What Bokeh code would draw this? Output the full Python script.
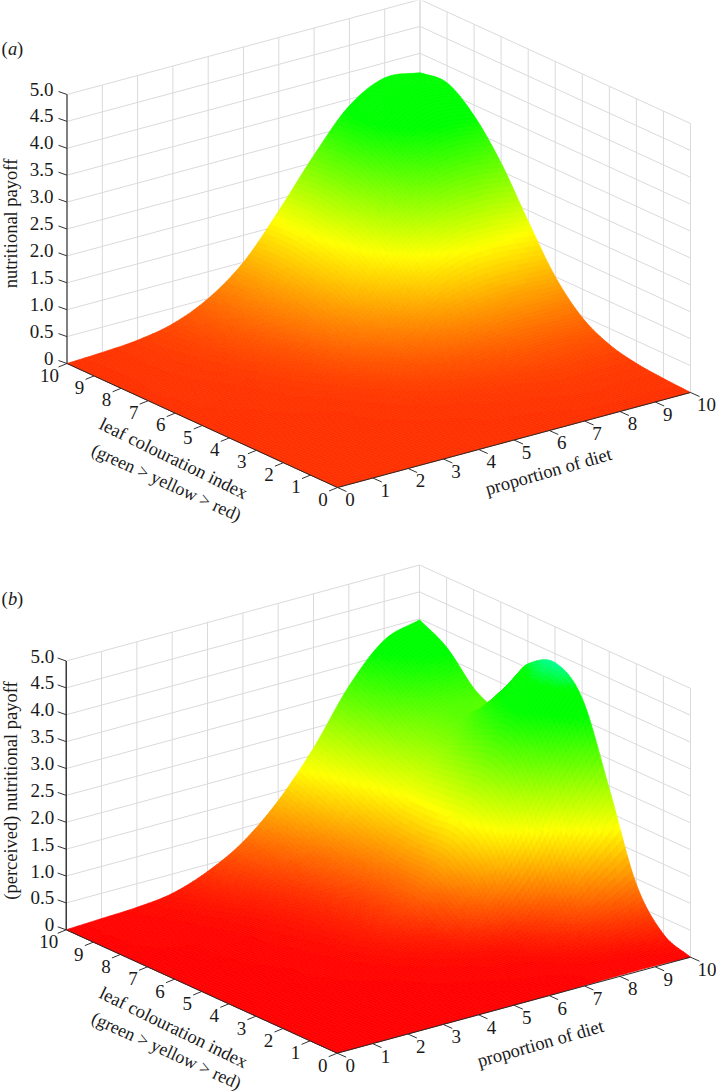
import numpy as np
from bokeh.plotting import figure
from bokeh.models import Range1d, ColumnDataSource
from bokeh.core.properties import value
from bokeh.embed import file_html
from bokeh.resources import INLINE

proportion_ticks = [0, 1, 2, 3, 4, 5, 6, 7, 8, 9, 10]
colouration_ticks = [0, 1, 2, 3, 4, 5, 6, 7, 8, 9, 10]
payoff_ticks = [0, 0.5, 1.0, 1.5, 2.0, 2.5, 3.0, 3.5, 4.0, 4.5, 5.0]
payoff_labels = ["0", "0.5", "1.0", "1.5", "2.0", "2.5", "3.0", "3.5", "4.0", "4.5", "5.0"]

# rows: leaf colouration index (see the *_rows lists), columns: proportion of diet 0..10
payoff_a_rows = [0, 1, 2, 3, 4, 5, 6, 7, 8, 9, 10]
payoff_a = [
    [0, 0, 0, 0, 0, 0, 0, 0, 0, 0, 0],
    [0, 0, 0, 0, 0, .01, .01, .02, .03, .03, .03],
    [0, 0, 0, 0, .01, .02, .04, .06, .08, .08, .08],
    [0, 0, 0, .01, .03, .06, .10, .15, .20, .21, .20],
    [0, .01, .01, .02, .06, .14, .25, .37, .47, .49, .47],
    [0, .01, .02, .05, .13, .30, .55, .85, 1.0, 1.03, 1.0],
    [0, .02, .03, .09, .22, .55, 1.0, 1.55, 1.85, 1.88, 1.80],
    [0, .03, .05, .13, .33, .78, 1.45, 2.15, 2.60, 2.73, 2.65],
    [0, .03, .07, .17, .43, .93, 1.68, 2.48, 3.10, 3.37, 3.30],
    [0, .03, .08, .20, .48, 1.01, 1.80, 2.67, 3.42, 3.75, 3.68],
    [0, .03, .08, .21, .50, 1.00, 1.78, 2.64, 3.38, 3.72, 3.64],
]
payoff_b_rows = [0, 1, 2, 3, 4, 5, 6, 6.5, 7, 7.3, 7.36, 8, 9, 10]
payoff_b = [
    [0, 0, 0, 0, 0, 0, 0, .01, .02, .02, 0],
    [0, 0, 0, 0, 0, 0, .01, .02, .05, .10, .20],
    [0, 0, 0, 0, .01, .02, .04, .07, .22, .55, .90],
    [0, 0, 0, .01, .02, .05, .10, .25, .70, 1.65, 2.45],
    [0, 0, .01, .02, .05, .12, .30, .95, 1.95, 3.0, 3.9],
    [0, 0, .01, .03, .08, .22, .60, 1.35, 2.45, 3.6, 4.33],
    [0, 0, .02, .04, .10, .28, .65, 1.35, 2.40, 3.4, 4.08],
    [0, .01, .02, .05, .12, .30, .70, 1.37, 2.35, 3.2, 3.70],
    [0, .01, .02, .05, .13, .33, .75, 1.40, 2.30, 3.0, 3.22],
    [0, .01, .02, .06, .14, .36, .80, 1.45, 2.33, 2.95, 2.97],
    [0, .01, .02, .06, .15, .37, .81, 1.46, 2.34, 2.95, 2.98],
    [0, .02, .03, .07, .18, .42, .90, 1.60, 2.50, 3.0, 3.17],
    [0, .03, .04, .10, .27, .58, 1.12, 1.90, 2.85, 3.45, 3.70],
    [0, .03, .06, .14, .37, .74, 1.33, 2.13, 3.10, 3.78, 3.98],
]

FONT = value("Liberation Serif")
p = figure(width=716, height=1092, x_range=Range1d(0, 716), y_range=Range1d(1092, 0),
           output_backend="svg", toolbar_location=None, min_border=0, margin=(0, 0, 0, 0))
p.axis.visible = False
p.grid.visible = False
p.outline_line_color = None


def resample(m, knots, fine):
    """Cubic Hermite resampling of a table along its first axis, over the given knots."""
    x = np.asarray(knots, float)
    slopes = np.zeros_like(m)
    slopes[1:-1] = (m[2:] - m[:-2]) / (x[2:] - x[:-2]).reshape((-1,) + (1,) * (m.ndim - 1))
    slopes[0] = (m[1] - m[0]) / (x[1] - x[0])
    slopes[-1] = (m[-1] - m[-2]) / (x[-1] - x[-2])
    i = np.clip(np.searchsorted(x, fine, side="right") - 1, 0, len(x) - 2)
    shape = (-1,) + (1,) * (m.ndim - 1)
    h = (x[i + 1] - x[i]).reshape(shape)
    u = ((fine - x[i]) / (x[i + 1] - x[i])).reshape(shape)
    return ((2 * u ** 3 - 3 * u ** 2 + 1) * m[i] + (u ** 3 - 2 * u ** 2 + u) * h * slopes[i]
            + (-2 * u ** 3 + 3 * u ** 2) * m[i + 1] + (u ** 3 - u ** 2) * h * slopes[i + 1])


def colour(z, low_g, yellow, blue_from, blue_to, blue_max):
    step = yellow / 60
    z = round(z / step) * step
    g = low_g + (255 - low_g) * min(z / yellow, 1)
    r = 255 if z <= yellow else max(0, 255 * (1 - (z - yellow) / yellow))
    b = 0 if z <= blue_from else min(blue_max, blue_max * (z - blue_from) / (blue_to - blue_from))
    return "#%02x%02x%02x" % (int(round(r)), int(round(g)), int(round(b)))


def panel(z_table, z_rows, front, right, left, top_y, axis_color, axis_width, low_g, yellow, blue,
          ylabel, ylabel_xy, letter, letter_y, leaf_xy, diet_xy, z_off, leaf_off, diet_off):
    ox, oy = front
    px_x, px_y = (right[0] - ox) / 10, (right[1] - oy) / 10
    lx_x, lx_y = (left[0] - ox) / 10, (left[1] - oy) / 10
    zs = (left[1] - top_y) / 5

    def proj(pp, ll, zz):
        return (ox + np.asarray(pp) * px_x + np.asarray(ll) * lx_x,
                oy + np.asarray(pp) * px_y + np.asarray(ll) * lx_y - np.asarray(zz) * zs)

    gx, gy = [], []
    for v in proportion_ticks:
        a, b = proj([v, v], [10, 10], [0, 5]); gx.append(a.tolist()); gy.append(b.tolist())
    for v in colouration_ticks:
        a, b = proj([10, 10], [v, v], [0, 5]); gx.append(a.tolist()); gy.append(b.tolist())
    for v in payoff_ticks:
        a, b = proj([0, 10, 10], [10, 10, 0], [v, v, v]); gx.append(a.tolist()); gy.append(b.tolist())
    p.multi_line(gx, gy, line_color="#dadade", line_width=1)

    n = 121
    g = np.linspace(0, 10, n)
    Z = resample(np.array(z_table, float), z_rows, g)
    Z = resample(Z.T, proportion_ticks, g).T
    Z = np.maximum(Z, 0)
    xs, ys, cs = [], [], []
    for i in range(n - 2, -1, -1):
        j = n - 2
        while j >= 0:
            c = colour(Z[i:i + 2, j:j + 2].mean(), low_g, yellow, *blue)
            j0 = j
            while j - 1 >= 0 and colour(Z[i:i + 2, j - 1:j + 1].mean(), low_g, yellow, *blue) == c:
                j -= 1
            cols = np.arange(j, j0 + 2)
            a1, b1 = proj(g[cols], g[i], Z[i, cols])
            a2, b2 = proj(g[cols][::-1], g[i + 1], Z[i + 1, cols][::-1])
            xs.append(np.round(np.concatenate([a1, a2]), 2).tolist())
            ys.append(np.round(np.concatenate([b1, b2]), 2).tolist())
            cs.append(c)
            j -= 1
    p.patches("xs", "ys", fill_color="cs", line_color="cs", line_width=0.7,
              source=ColumnDataSource(dict(xs=xs, ys=ys, cs=cs)))

    a, b = proj([0, 0], [10, 10], [0, 5])
    p.line(a, b, line_color=axis_color, line_width=axis_width)
    a, b = proj([0, 0, 10], [10, 0, 0], [0, 0, 0])
    p.line(a, b, line_color="#2a2a2a", line_width=1)

    tx, ty = [], []
    for v in payoff_ticks:
        a, b = proj(0, 10, v)
        tx.append([float(a), float(a) - 8.5]); ty.append([float(b), float(b) - 3])
    for v in colouration_ticks:
        a, b = proj(0, v, 0)
        tx.append([float(a), float(a) - 8.5]); ty.append([float(b), float(b) + 3.5])
    for v in proportion_ticks:
        a, b = proj(v, 0, 0)
        tx.append([float(a), float(a) + 9]); ty.append([float(b), float(b) + 4])
    p.multi_line(tx, ty, line_color="#333333", line_width=1)

    fs = "19px"
    fl = "18.5px"
    a, b = proj(0, 10, np.array(payoff_ticks))
    p.text(a - z_off[0], b - z_off[1], text=payoff_labels, text_font=FONT, text_font_size=fs,
           text_align="right", text_baseline="middle", text_color="#1a1a1a")
    a, b = proj(0, np.array(colouration_ticks), 0)
    a = a + leaf_off[0] - np.array([0] * 10 + [3]); b = b + leaf_off[1]
    p.text(a, b, text=[str(v) for v in colouration_ticks], text_font=FONT, text_font_size=fs,
           text_align="center", text_baseline="middle", text_color="#1a1a1a")
    a, b = proj(np.array(proportion_ticks), 0, 0)
    a = a + diet_off[0] + np.array([0] * 10 + [3.5]); b = b + diet_off[1]
    p.text(a, b, text=[str(v) for v in proportion_ticks], text_font=FONT, text_font_size=fs,
           text_align="center", text_baseline="middle", text_color="#1a1a1a")

    p.text([ylabel_xy[0]], [ylabel_xy[1]], text=[ylabel], angle=np.pi / 2, text_font=FONT,
           text_font_size=fl, text_align="center", text_baseline="middle", text_color="#1a1a1a")
    lab = [("leaf colouration index", leaf_xy[0], -26.0, fl), ("(green > yellow > red)", leaf_xy[1], -24.6, "18px")]
    for txt, xy, ang, size in lab:
        p.text([xy[0]], [xy[1]], text=[txt], angle=np.radians(ang), text_font=FONT, text_font_size=size,
               text_align="center", text_baseline="middle", text_color="#1a1a1a")
    p.text([diet_xy[0]], [diet_xy[1]], text=["proportion of diet"], angle=np.radians(16), text_font=FONT,
           text_font_size=fl, text_align="center", text_baseline="middle", text_color="#1a1a1a")
    p.text([1], [letter_y], text=["("], text_font=FONT, text_font_size=fl, text_align="left",
           text_baseline="middle", text_color="#1a1a1a")
    p.text([7.5], [letter_y], text=[letter], text_font=FONT, text_font_size=fl, text_font_style="italic",
           text_align="left", text_baseline="middle", text_color="#1a1a1a")
    p.text([16.5], [letter_y], text=[")"], text_font=FONT, text_font_size=fl, text_align="left",
           text_baseline="middle", text_color="#1a1a1a")


panel(payoff_a, payoff_a_rows, (337, 487), (690, 392), (66.5, 363), 94, "#808080", 2, 48, 1.65, (9, 10, 0),
      "nutritional payoff", (10, 223), "a", 48, [(173, 458), (166, 482)], (548, 471),
      (13.5, 5.5), (-14.5, 11.5), (12.5, 12))
panel(payoff_b, payoff_b_rows, (336.7, 1052.7), (690, 956.7), (65.7, 929.3), 660.5, "#111111", 1.2, 0, 1.8,
      (4.0, 4.33, 150),
      "(perceived) nutritional payoff", (10, 790), "b", 598, [(173, 1027), (166, 1050)], (540, 1043),
      (12, 5), (-14.5, 12), (13, 12.5))

open("out.html", "w").write(file_html(p, INLINE))
